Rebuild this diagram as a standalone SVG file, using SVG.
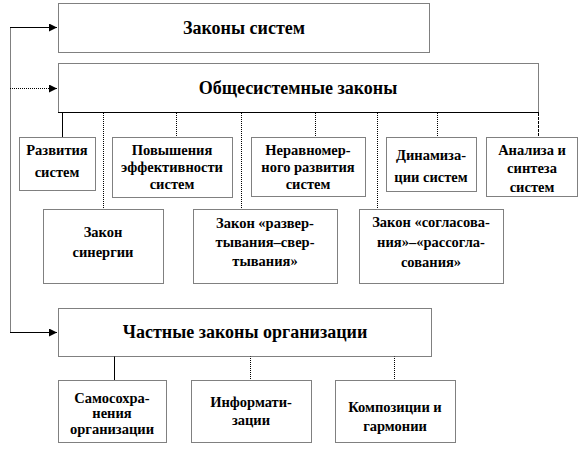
<svg xmlns="http://www.w3.org/2000/svg" width="586" height="451" viewBox="0 0 586 451">
<defs>
<style>
.box{fill:#fff;stroke:#000;stroke-width:1;stroke-dasharray:1 1}
.dot{fill:none;stroke:#000;stroke-width:1;stroke-dasharray:1 1}
.sol{fill:none;stroke:#000;stroke-width:1}
.h{font-size:18px}
.s{font-size:14.5px}
</style>
<marker id="ar" viewBox="0 0 8 8" refX="8" refY="4" markerWidth="8" markerHeight="8" markerUnits="userSpaceOnUse" orient="auto">
<path d="M0,0 L8,4 L0,8 z" fill="#000"/>
</marker>
</defs>
<rect width="586" height="451" fill="#fff"/>
<g id="connectors">
<line class="dot" x1="10.5" y1="27.5" x2="10.5" y2="332.5"/>
<line class="sol" x1="10" y1="27.5" x2="57" y2="27.5" marker-end="url(#ar)"/>
<line class="dot" x1="10" y1="88.5" x2="57" y2="88.5" marker-end="url(#ar)"/>
<line class="sol" x1="10" y1="332.5" x2="57" y2="332.5" marker-end="url(#ar)"/>
<line class="sol" x1="62.5" y1="112.5" x2="538.5" y2="112.5"/>
<line class="sol" x1="62.5" y1="112" x2="62.5" y2="137"/>
<line class="dot" x1="103.5" y1="113" x2="103.5" y2="209"/>
<line class="dot" x1="176.5" y1="113" x2="176.5" y2="137"/>
<line class="dot" x1="241.5" y1="113" x2="241.5" y2="209"/>
<line class="dot" x1="315.5" y1="113" x2="315.5" y2="137"/>
<line class="dot" x1="377.5" y1="113" x2="377.5" y2="209"/>
<line class="dot" x1="437.5" y1="113" x2="437.5" y2="137"/>
<line class="dot" x1="538.5" y1="113" x2="538.5" y2="137" style="stroke-dasharray:3 1"/>
<line class="sol" x1="114.5" y1="356" x2="114.5" y2="380"/>
<line class="dot" x1="250.5" y1="356" x2="250.5" y2="380"/>
<line class="dot" x1="394.5" y1="356" x2="394.5" y2="380"/>
</g>
<g font-family="Liberation Serif" font-weight="bold" text-anchor="middle" fill="#000">
<g id="n-zakony-sistem">
<rect class="box" x="58.5" y="3.5" width="371" height="49"/>
<text class="h" x="244" y="34">Законы систем</text>
</g>
<g id="n-obshchesistemnye">
<rect class="box" x="58.5" y="63.5" width="480" height="49"/>
<line class="sol" x1="58" y1="112.5" x2="539" y2="112.5"/>
<text class="h" x="298" y="94">Общесистемные законы</text>
</g>
<g id="n-razvitiya">
<rect class="box" x="19.5" y="137.5" width="76" height="53"/>
<text class="s" x="57" y="155">Развития</text>
<text class="s" x="57" y="177">систем</text>
</g>
<g id="n-povysheniya">
<rect class="box" x="112.5" y="137.5" width="120" height="60"/>
<text class="s" x="172" y="155">Повышения</text>
<text class="s" x="172" y="172">эффективности</text>
<text class="s" x="172" y="189">систем</text>
</g>
<g id="n-neravnomernogo">
<rect class="box" x="251.5" y="137.5" width="114" height="59"/>
<text class="s" x="308" y="155">Неравномер-</text>
<text class="s" x="308" y="172">ного развития</text>
<text class="s" x="308" y="189">систем</text>
</g>
<g id="n-dinamizatsii">
<rect class="box" x="386.5" y="137.5" width="90" height="54"/>
<text class="s" x="431" y="160">Динамиза-</text>
<text class="s" x="431" y="182">ции систем</text>
</g>
<g id="n-analiza">
<rect class="box" x="486.5" y="137.5" width="91" height="59"/>
<text class="s" x="532" y="155">Анализа и</text>
<text class="s" x="532" y="173">синтеза</text>
<text class="s" x="532" y="192">систем</text>
</g>
<g id="n-sinergii">
<rect class="box" x="43.5" y="209.5" width="120" height="74"/>
<text class="s" x="103" y="237">Закон</text>
<text class="s" x="103" y="257">синергии</text>
</g>
<g id="n-razvertyvaniya">
<rect class="box" x="193.5" y="209.5" width="144" height="74"/>
<text class="s" x="265" y="228">Закон «развер-</text>
<text class="s" x="265" y="247">тывания–свер-</text>
<text class="s" x="265" y="266">тывания»</text>
</g>
<g id="n-soglasovaniya">
<rect class="box" x="359.5" y="209.5" width="144" height="74"/>
<text class="s" x="431" y="227">Закон «согласова-</text>
<text class="s" x="431" y="247">ния»–«рассогла-</text>
<text class="s" x="431" y="267">сования»</text>
</g>
<g id="n-chastnye">
<rect class="box" x="58.5" y="308.5" width="373" height="48"/>
<text class="h" x="245" y="338">Частные законы организации</text>
</g>
<g id="n-samosohraneniya">
<rect class="box" x="58.5" y="380.5" width="108" height="62"/>
<text class="s" x="112" y="403">Самосохра-</text>
<text class="s" x="112" y="418">нения</text>
<text class="s" x="112" y="434">организации</text>
</g>
<g id="n-informatizatsii">
<rect class="box" x="191.5" y="380.5" width="120" height="62"/>
<text class="s" x="251" y="407">Информати-</text>
<text class="s" x="251" y="425">зации</text>
</g>
<g id="n-kompozitsii">
<rect class="box" x="335.5" y="380.5" width="120" height="62"/>
<text class="s" x="395" y="412">Композиции и</text>
<text class="s" x="395" y="431">гармонии</text>
</g>
</g>
</svg>
